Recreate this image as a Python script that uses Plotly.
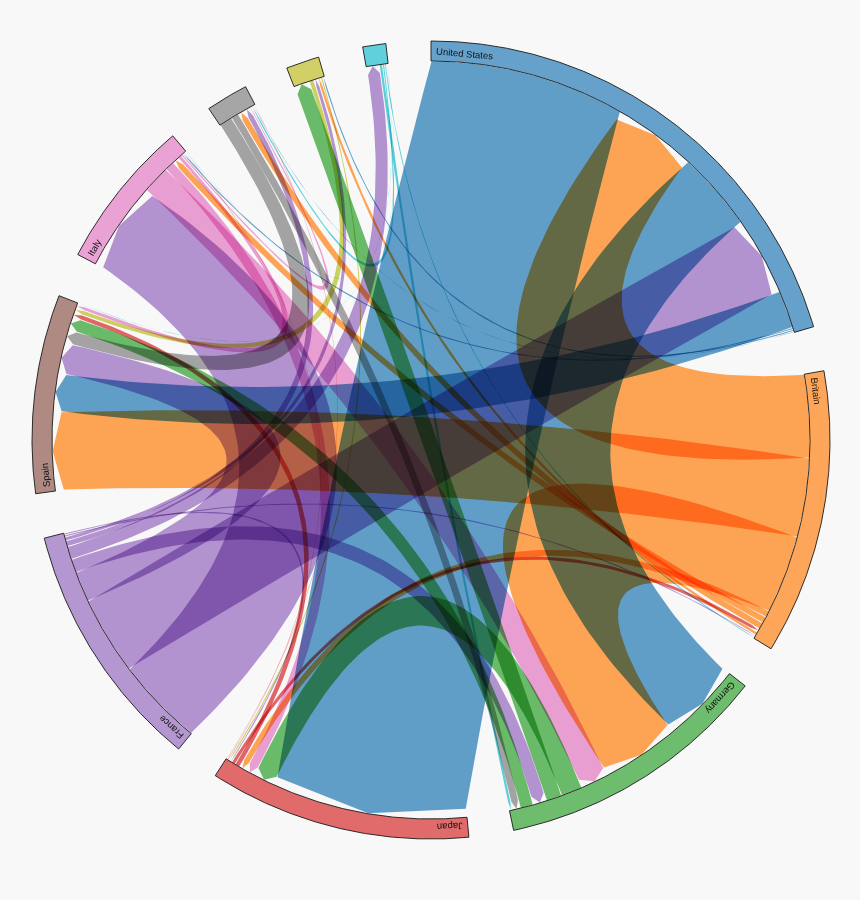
import numpy as np
import plotly.graph_objects as go

# ---------------- data ----------------
names = ["United States", "Britain", "Germany", "Japan", "France",
         "Spain", "Italy", "Greece", "Portugal", "Ireland"]
show_label = [True, True, True, True, True, True, True, False, False, False]
colors = ["#1f77b4", "#ff7f0e", "#2ca02c", "#d62728", "#9467bd",
          "#8c564b", "#e377c2", "#7f7f7f", "#bcbd22", "#17becf"]

flow_source = [
    "United States", "Britain", "United States", "France", "United States",
    "United States", "United States", "United States",
    "Britain", "Britain", "Britain", "Britain", "Britain", "Britain",
    "Japan", "France", "Ireland",
    "Italy", "Germany", "Germany", "France", "Germany", "Greece", "Ireland",
    "Italy", "Japan", "Portugal", "France", "Japan", "Japan",
    "France", "France", "France", "France", "France",
    "Greece", "Portugal", "Italy", "Ireland",
    "Italy", "Ireland", "Ireland",
]
flow_target = [
    "Japan", "United States", "Germany", "United States", "Spain",
    "Italy", "Portugal", "Greece",
    "Spain", "Germany", "Italy", "Japan", "Greece", "Portugal",
    "Britain", "Britain", "Britain",
    "Germany", "Japan", "Portugal", "Germany", "Spain", "Germany", "Germany",
    "Japan", "Spain", "Japan", "Japan", "Italy", "Greece",
    "Italy", "Spain", "Ireland", "Greece", "Portugal",
    "Spain", "Spain", "Spain", "Spain",
    "Greece", "Italy", "Greece",
]
flow_value = [
    795, 337, 323, 318, 154,
    8, 8, 5,
    321, 318, 27, 27, 27, 13,
    16, 8, 7,
    114, 87, 64, 56, 53, 32, 13,
    40, 21, 8, 8, 5, 5,
    360, 125, 53, 24, 16,
    54, 19, 16, 4,
    8, 4, 8,
]

# ---------------- layout helpers ----------------
R_IN, R_OUT = 379.0, 399.0
R_RIB = 378.5
HEAD = 8.0
GROUP_PAD = np.deg2rad(6.5)
RIB_PAD = 1.0 / R_IN
FONT_SIZE = 9.5
BG = "#f8f8f8"

n = len(names)
idx = {nm: i for i, nm in enumerate(names)}
M = np.zeros((n, n))
for s, t, v in zip(flow_source, flow_target, flow_value):
    M[idx[s], idx[t]] += v

k = (2 * np.pi - n * GROUP_PAD) / (2 * M.sum())

groups = []
src_ang, tgt_ang = {}, {}
x = 0.0
for i in range(n):
    subs = []
    for j in range(n):
        if M[i, j] > 0:
            subs.append(("out", j, M[i, j]))
    for j in range(n):
        if M[j, i] > 0:
            subs.append(("in", j, M[j, i]))
    subs.sort(key=lambda s: -s[2])
    x0 = x
    for kind, j, v in subs:
        a0 = x
        x += v * k
        if kind == "out":
            src_ang[(i, j)] = (a0, x)
        else:
            tgt_ang[(j, i)] = (a0, x)
    groups.append((x0, x))
    x += GROUP_PAD


def polar(r, a):
    return np.array([r * np.sin(a), r * np.cos(a)])


def arc_pts(r, a0, a1, step=np.deg2rad(0.3)):
    m = max(2, int(abs(a1 - a0) / step) + 2)
    a = np.linspace(a0, a1, m)
    return [np.array(p) for p in zip(r * np.sin(a), r * np.cos(a))]


def quad_pts(p0, c, p2, m=70):
    t = np.linspace(0, 1, m)[1:, None]
    pts = (1 - t) ** 2 * p0 + 2 * t * (1 - t) * c + t ** 2 * p2
    return [p for p in pts]


def shrink(a0, a1):
    ap = RIB_PAD / 2
    if a1 - a0 > 2 * ap:
        return a0 + ap, a1 - ap
    m = (a0 + a1) / 2
    return m, m


def ribbon_path(sa0, sa1, ta0, ta1):
    sa0, sa1 = shrink(sa0, sa1)
    ta0, ta1 = shrink(ta0, ta1)
    a = (sa0 + sa1) / 2
    b = (ta0 + ta1) / 2
    h = R_RIB * np.sin((sa1 - sa0) / 2)
    n1 = np.array([np.cos(a), -np.sin(a)])
    n2 = np.array([-np.cos(b), np.sin(b)])
    c = max(float(n1 @ n2), -0.985)
    P = h * (n1 + n2) / (1 + c)
    tr2 = R_RIB - HEAD
    pts = arc_pts(R_RIB, sa0, sa1)
    pts += quad_pts(pts[-1], P, polar(tr2, ta0))
    pts.append(polar(R_RIB, b))
    p1 = polar(tr2, ta1)
    pts.append(p1)
    pts += quad_pts(p1, -P, polar(R_RIB, sa0))
    return pts


def rgba(hex_color, a):
    hh = hex_color.lstrip("#")
    r, g, b = int(hh[0:2], 16), int(hh[2:4], 16), int(hh[4:6], 16)
    return f"rgba({r},{g},{b},{a})"


fig = go.Figure()

# ribbons
for (i, j), (sa0, sa1) in src_ang.items():
    ta0, ta1 = tgt_ang[(i, j)]
    pts = ribbon_path(sa0, sa1, ta0, ta1)
    pts.append(pts[0])
    fig.add_trace(go.Scatter(
        x=[p[0] for p in pts], y=[p[1] for p in pts], mode="lines",
        fill="toself", fillcolor=rgba(colors[i], 0.7), line=dict(width=0),
        hoverinfo="skip", showlegend=False))

# group arcs
for i, (a0, a1) in enumerate(groups):
    outer = arc_pts(R_OUT, a0, a1)
    inner = arc_pts(R_IN, a1, a0)
    pts = outer + inner + [outer[0]]
    fig.add_trace(go.Scatter(
        x=[p[0] for p in pts], y=[p[1] for p in pts], mode="lines",
        fill="toself", fillcolor=rgba(colors[i], 0.68),
        line=dict(color="#1a1a1a", width=0.9),
        hoverinfo="skip", showlegend=False))

# labels along arcs
EM = {"U": .722, "n": .556, "i": .222, "t": .278, "e": .556, "d": .556,
      " ": .278, "S": .667, "a": .556, "s": .5, "B": .667, "r": .333,
      "G": .778, "m": .833, "y": .5, "J": .5, "p": .556, "F": .611,
      "c": .5, "I": .278, "l": .222}
R_TXT = 387.5
annotations = []
for i, (a0, a1) in enumerate(groups):
    if not show_label[i]:
        continue
    w = sum(EM.get(ch, 0.55) for ch in names[i]) * FONT_SIZE
    ac = a0 + (5.0 + w / 2) / R_TXT
    px, py = polar(R_TXT, ac)
    ang = np.degrees(ac)
    if ang > 180:
        ang -= 360
    annotations.append(dict(
        x=px, y=py, xref="x", yref="y", text=names[i], showarrow=False,
        textangle=ang, xanchor="center", yanchor="middle",
        font=dict(family="Liberation Sans, Arial, sans-serif",
                  size=FONT_SIZE, color="#111111")))

fig.update_layout(
    width=860, height=900,
    margin=dict(l=0, r=0, t=0, b=0),
    paper_bgcolor=BG, plot_bgcolor=BG,
    xaxis=dict(range=[-431, 429], visible=False, fixedrange=True),
    yaxis=dict(range=[-460, 440], visible=False, fixedrange=True),
    annotations=annotations,
    showlegend=False,
)

post_js = """
document.body.style.margin = '0';
document.body.style.padding = '0';
var gd = document.getElementById('{plot_id}');
function applyBlend() {
  gd.querySelectorAll('path.js-fill').forEach(function (p) {
    p.style.mixBlendMode = 'multiply';
  });
}
applyBlend();
if (gd.on) { gd.on('plotly_afterplot', applyBlend); }
"""

fig.write_html("out.html", include_plotlyjs=True,
               config={"staticPlot": True, "displayModeBar": False},
               post_script=post_js)
